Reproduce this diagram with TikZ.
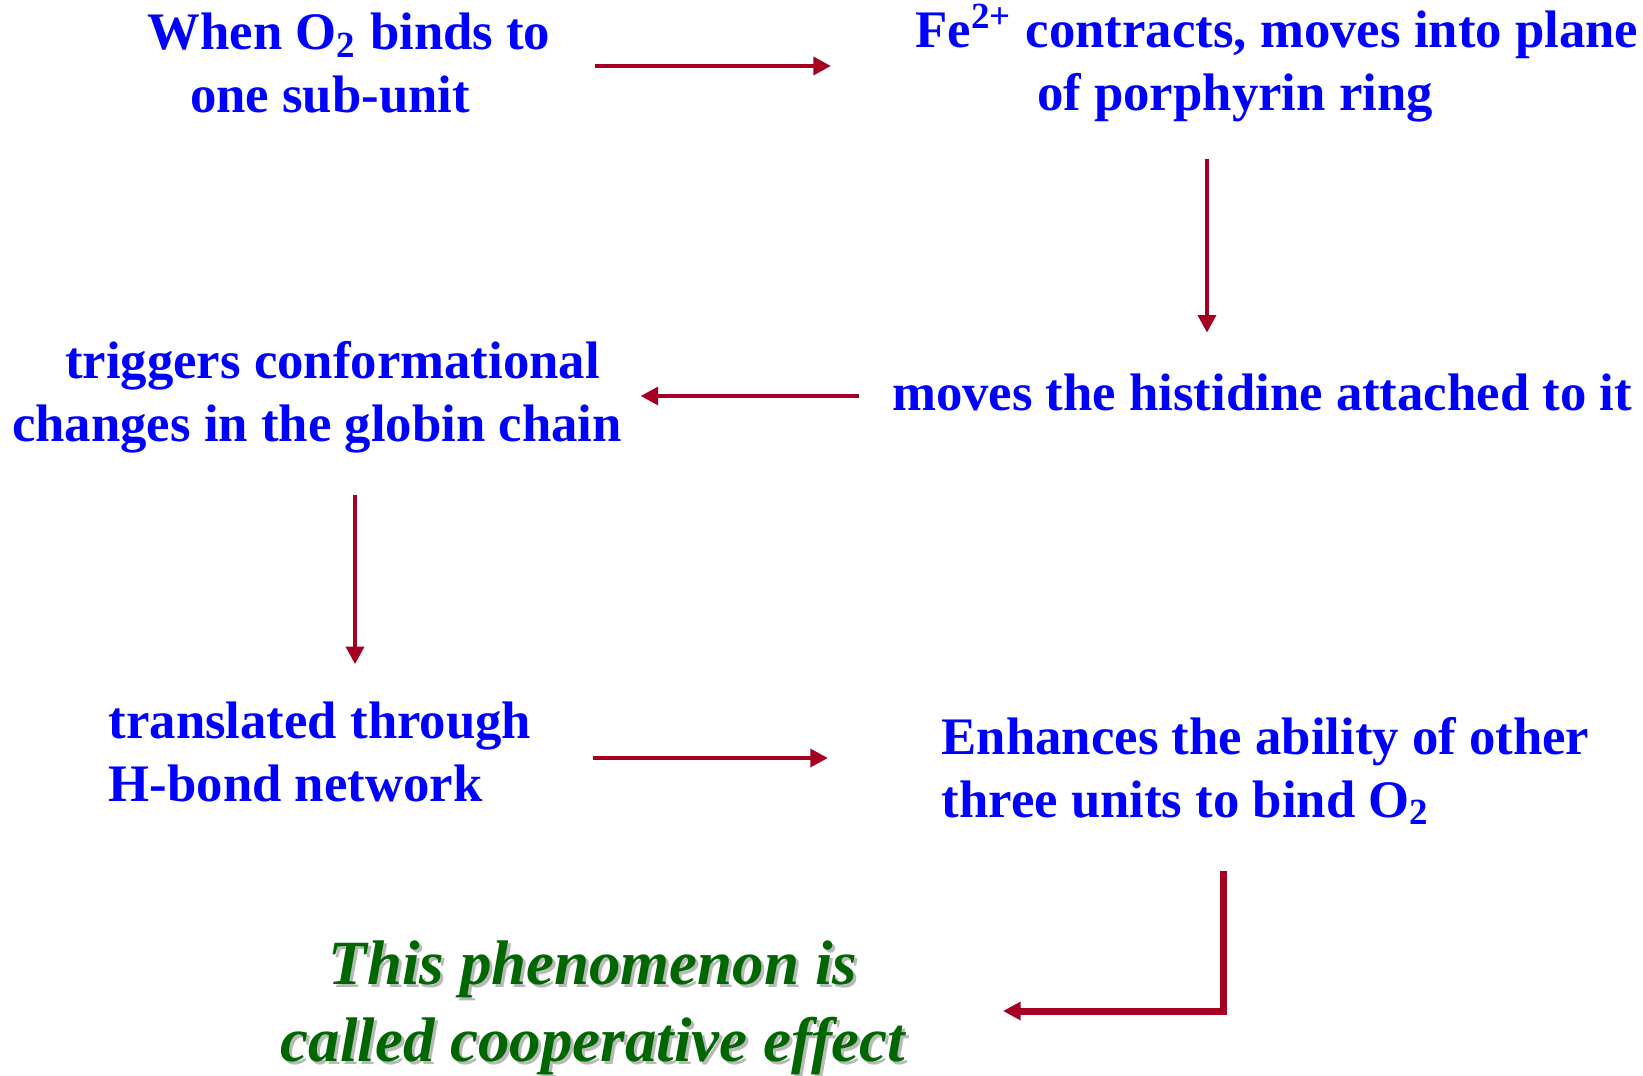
\documentclass[tikz,border=0pt]{standalone}
\usepackage{fontspec}
\setmainfont{Liberation Serif}
\usetikzlibrary{arrows.meta}
\definecolor{flowred}{HTML}{A50021}
\definecolor{stageblue}{HTML}{0000FF}
\definecolor{coopgreen}{HTML}{006600}

\begin{document}
\begin{tikzpicture}[x=0.01cm,y=-0.01cm,
  stage/.style={inner sep=0pt,text=stageblue,font=\fontsize{15}{17.9}\selectfont\bfseries},
  verdict/.style={inner sep=0pt,align=center,font=\fontsize{17.9}{21.8}\selectfont\bfseries\itshape},
  flow/.style={draw=flowred,line width=1.4pt,-{Triangle[length=5pt,width=5pt]}},
  flowthick/.style={flow,line width=2pt}]
\useasboundingbox (0,0) rectangle (1643,1075);
% the six stages
\node[stage,align=center] (when) at (349,63) {When O\textsubscript{2} binds to\\one sub-unit\hspace*{0.38cm}};
\node[stage,align=center] (fe) at (1277,63) {Fe\textsuperscript{2+} contracts, moves into plane\\of porphyrin ring\hspace*{0.84cm}};
\node[stage] (moves) at (1262,392) {moves the histidine attached to it};
\node[stage,align=center] (trig) at (317,397) {\hspace*{0.31cm}triggers conformational\\changes in the globin chain};
\node[stage,align=left,anchor=west] (transl) at (108,752) {translated through\\H-bond network};
\node[stage,align=left,anchor=west] (enh) at (941,771) {Enhances the ability of other\\three units to bind O\textsubscript{2}};
% conclusion, with its shadow
\node[verdict,text=gray!55] (coopshadow) at (596,1011) {This phenomenon is\\called cooperative effect};
\node[verdict,text=coopgreen] (coop) at (593,1008) {This phenomenon is\\called cooperative effect};
% arrows
\draw[flow,shorten <=0.44cm,shorten >=0.84cm] ([yshift=-0.03cm]when.east) -- ([yshift=-0.03cm]when.east -| fe.west);
\draw[flow,shorten <=0.37cm,shorten >=0.4cm] ([xshift=-0.7cm]fe.south) -- ([xshift=-0.7cm]fe.south |- moves.north);
\draw[flow,shorten <=0.32cm,shorten >=0.18cm] ([yshift=-0.04cm]moves.west) -- ([yshift=-0.04cm]moves.west -| trig.east);
\draw[flow,shorten <=0.41cm,shorten >=0.37cm] ([xshift=0.38cm]trig.south) -- ([xshift=0.38cm]trig.south |- transl.north);
\draw[flow,shorten <=0.61cm,shorten >=1.13cm] ([yshift=-0.06cm]transl.east) -- ([yshift=-0.06cm]transl.east -| enh.west);
\draw[flowthick,shorten <=0.45cm,shorten >=0.97cm] ([xshift=-0.42cm]enh.south) |- ([yshift=-0.03cm]coop.east);
\end{tikzpicture}
\end{document}
